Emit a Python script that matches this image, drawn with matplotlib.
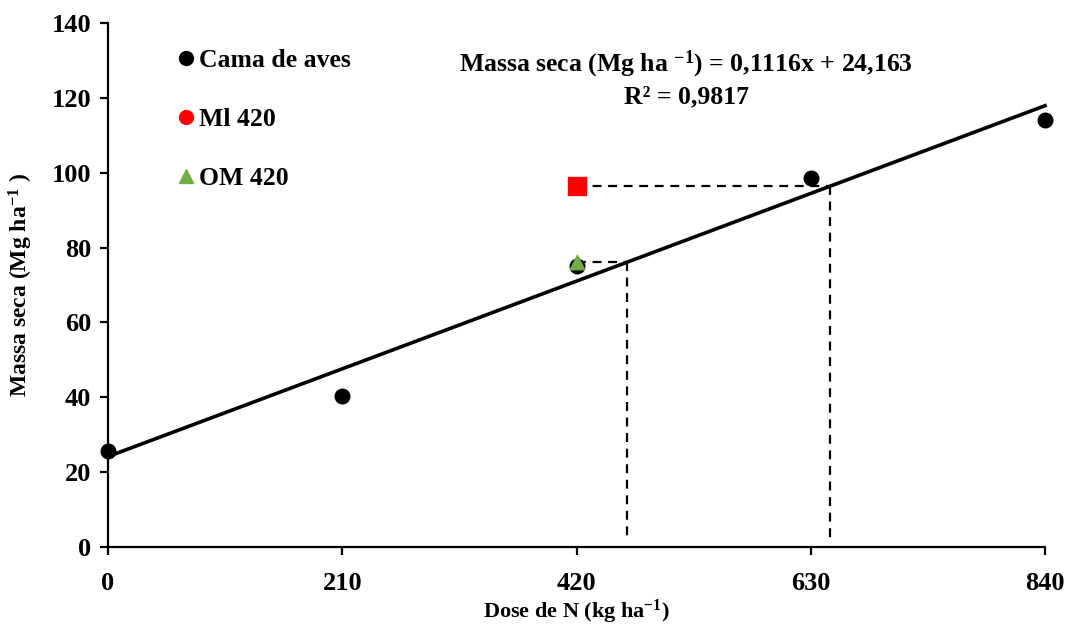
import numpy as np
from matplotlib import pyplot as plt
from matplotlib.lines import Line2D

plt.rcParams['font.family'] = ['Liberation Serif', 'DejaVu Serif']
plt.rcParams['font.weight'] = 'bold'
plt.rcParams['axes.labelweight'] = 'bold'
plt.rcParams['mathtext.fontset'] = 'custom'
plt.rcParams['mathtext.rm'] = 'Liberation Serif:bold'
plt.rcParams['mathtext.bf'] = 'Liberation Serif:bold'
plt.rcParams['mathtext.it'] = 'Liberation Serif:bold'
plt.rcParams['mathtext.default'] = 'bf'

dose = [0, 210, 420, 630, 840]  # kg ha-1
massa = [25.7, 40.4, 75.2, 98.7, 114.2]  # Cama de aves
ml_dose, ml_massa = [420], [96.4]
om_dose, om_massa = [420], [76.1]
slope, intercept = 0.1116, 24.163  # ajuste linear
r2 = '0,9817'

fig = plt.figure(figsize=(10.69, 6.27), dpi=100)
ax = fig.add_axes([0.101, 0.1276, 0.8766, 0.8357])

xs = np.array([0, 840])
ax.plot(xs, slope * xs + intercept, color='black', lw=2.6, zorder=2, clip_on=False)

ax.scatter(dose, massa, s=110, color='black', zorder=3, clip_on=False)
ax.scatter(ml_dose, ml_massa, s=170, marker='s', color='#ff0000', zorder=4)
ax.scatter(om_dose, om_massa, s=110, marker='^', color='#70ad47', zorder=4)

# linhas tracejadas ate a reta de regressao
for xd, yd in [(ml_dose[0], ml_massa[0]), (om_dose[0], om_massa[0])]:
    xr = (yd - intercept) / slope
    ax.plot([xd, xr], [yd, yd], ls=(0, (4, 3)), color='black', lw=1.6, zorder=1)
    ax.plot([xr, xr], [yd, 2], ls=(0, (4, 3)), color='black', lw=1.6, zorder=1)

ax.set_xlim(0, 840)
ax.set_ylim(0, 140)
ax.set_xticks(dose)
ax.set_yticks(range(0, 141, 20))
ax.spines['top'].set_visible(False)
ax.spines['right'].set_visible(False)
for s in ['left', 'bottom']:
    ax.spines[s].set_linewidth(1.6)
ax.tick_params(direction='out', length=6, width=1.6, labelsize=19, pad=6)
ax.tick_params(axis='x', pad=12)

ax.set_xlabel('Dose de N (kg ha$^{-1}$)', fontsize=16)
ax.xaxis.set_label_coords(0.5, -0.097)
ax.set_ylabel('Massa seca (Mg ha$^{-1}$ )', fontsize=17, labelpad=12)

ax.text(0.617, 0.922, 'Massa seca (Mg ha $^{-1}$) = 0,1116x + 24,163',
        transform=ax.transAxes, ha='center', va='center', fontsize=18.5)
ax.text(0.617, 0.86, 'R² = ' + r2, transform=ax.transAxes,
        ha='center', va='center', fontsize=18.5)

handles = [
    Line2D([], [], ls='', marker='o', ms=10, color='black'),
    Line2D([], [], ls='', marker='o', ms=10, color='#ff0000'),
    Line2D([], [], ls='', marker='^', ms=10, color='#70ad47'),
]
ax.legend(handles, ['Cama de aves', 'Ml 420', 'OM 420'], loc='upper left',
          bbox_to_anchor=(0.045, 0.995), frameon=False, fontsize=18.5,
          handletextpad=0.0, labelspacing=1.4, handlelength=1.0)

fig.savefig('out.png', dpi=100)
